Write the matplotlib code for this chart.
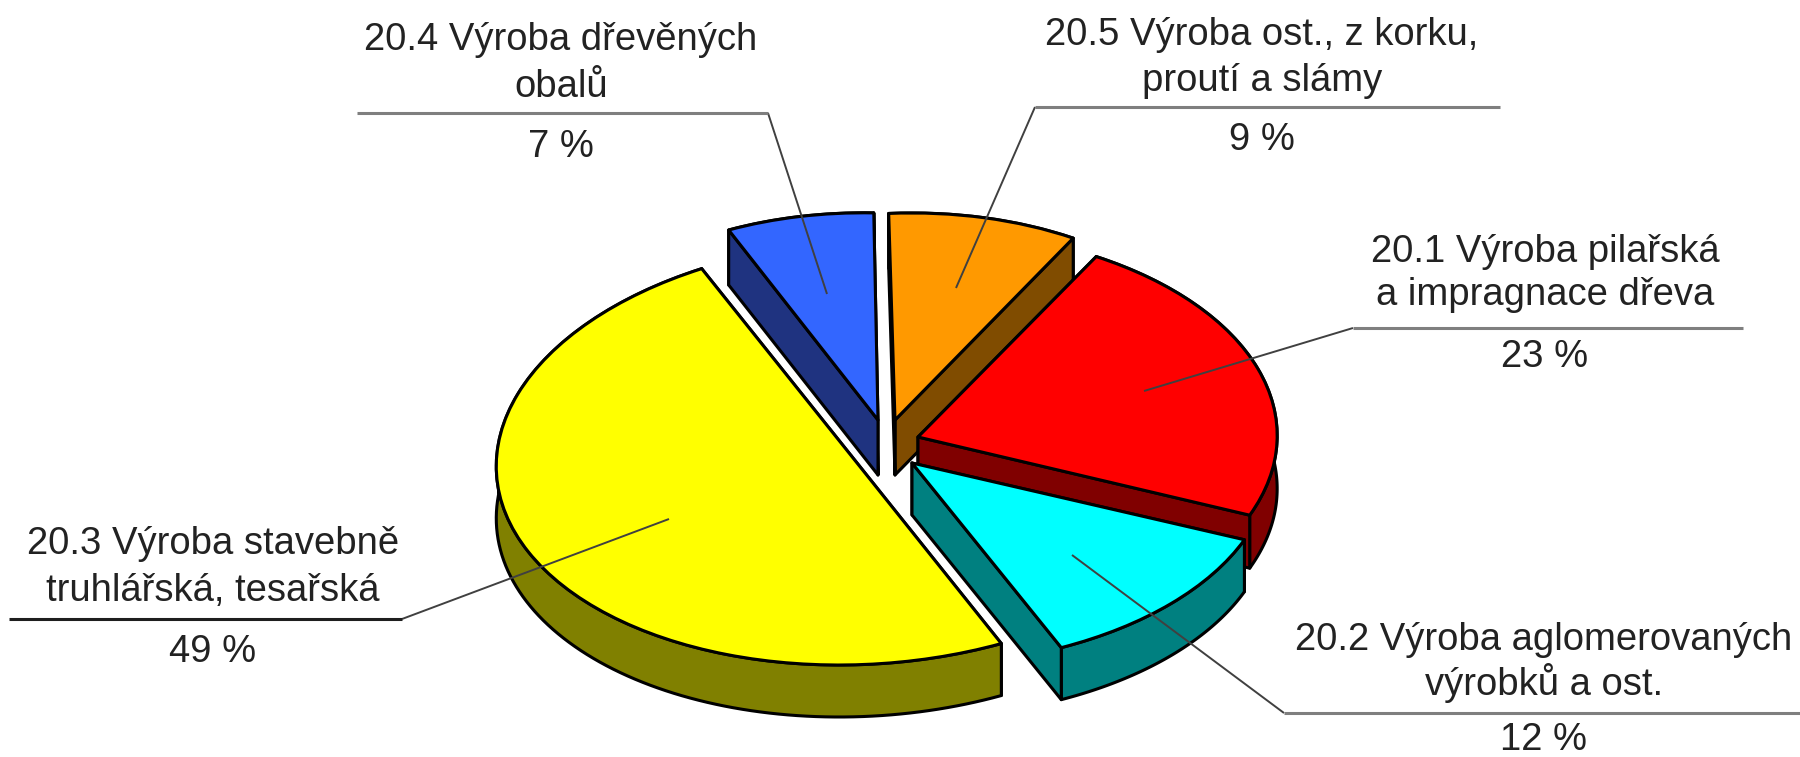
import numpy as np
import matplotlib
matplotlib.use("Agg")
import matplotlib.pyplot as plt
from matplotlib.patches import PathPatch, Polygon
from matplotlib.path import Path
from matplotlib.transforms import Affine2D

# ---------- data ----------
label_lines = [
    ["20.1 Výroba pilařská", "a impragnace dřeva"],
    ["20.2 Výroba aglomerovaných", "výrobků a ost."],
    ["20.3 Výroba stavebně", "truhlářská, tesařská"],
    ["20.4 Výroba dřevěných", "obalů"],
    ["20.5 Výroba ost., z korku,", "proutí a slámy"],
]
values = [23, 12, 49, 7, 9]

# ---------- styles ----------
top_colors = ["#FF0000", "#00FFFF", "#FFFF00", "#3366FF", "#FF9900"]
side_colors = ["#800000", "#008080", "#808000", "#1F3380", "#804C00"]
# per-slice projection of the unit pie: x/y scale + shear, pixel origin
slice_matrix = [
    (359, 11, 5, -207, 918, 437),
    (359, 9, 5, -203, 912, 463),
    (365, 23, 0, -212, 862, 453),
    (341, 22, 22, -206, 878, 420),
    (342, 20, 2, -207, 895, 420),
]
slice_depth = [53, 52, 52, 55, 55]
apex_inset = [0, 0, 0.0314, 0, 0]      # pulls the apex onto the chord for the near-half slice
draw_order = [3, 4, 0, 1, 2]
line_w = 2.2

# label layout: centre x, baselines of the lines, baseline of %, underline, leader
label_x = [1545, 1544, 213, 561, 1262]
label_base = [(262, 305), (650, 695), (554, 601), (50, 97), (45, 91)]
pct_base = [367, 750, 662, 157, 150]
rule_x = [(1353, 1743), (1284, 1800), (9, 402), (357, 768), (1035, 1500)]
rule_y = [328, 713, 619, 113, 107]
rule_color = ["#7f7f7f", "#7f7f7f", "#1e1e1e", "#7f7f7f", "#7f7f7f"]
leader_from = [(1353, 328), (1284, 713), (402, 619), (768, 113), (1035, 107)]
leader_to = [(1144, 391), (1072, 555), (669, 519), (827, 294), (956, 288)]

plt.rcParams["font.family"] = ["Liberation Sans", "DejaVu Sans"]
fig = plt.figure(figsize=(18, 7.57), dpi=100, facecolor="white")
ax = fig.add_axes([0, 0, 1, 1])

wedges, _ = ax.pie(values, startangle=62, counterclock=False, radius=1, colors=top_colors)
ax.set_aspect("auto")
ax.set_xlim(0, 1800)
ax.set_ylim(757, 0)
ax.axis("off")


def project(m, u, v):
    a, b, c, d, cx, cy = m
    return np.column_stack([cx + a * u + b * v, cy + c * u + d * v])


def cross(p, q):
    return p[0] * q[1] - p[1] * q[0]


for rank, i in enumerate(draw_order):
    w = wedges[i]
    m = slice_matrix[i]
    dep = np.array([0, slice_depth[i]])
    t1, t2 = np.radians(w.theta1), np.radians(w.theta2)
    tt = np.linspace(t1, t2, 120)
    rim = project(m, np.cos(tt), np.sin(tt))
    mid = (t1 + t2) / 2
    ins = (apex_inset[i] * np.cos(mid), apex_inset[i] * np.sin(mid))
    apex = project(m, np.array([ins[0]]), np.array([ins[1]]))[0]
    side = dict(facecolor=side_colors[i], edgecolor="black", linewidth=line_w, joinstyle="round", zorder=2 + rank)
    inner = rim[len(rim) // 2] - apex
    ends = (rim[0], rim[-1])
    visible = [cross(e - apex, dep) * cross(e - apex, inner) < 0 for e in ends]

    # hidden cut faces, then the outer wall, then the cut face turned to the viewer
    for e, v in zip(ends, visible):
        if not v:
            ax.add_patch(Polygon([apex, e, e + dep, apex + dep], closed=True, **side))
    ax.add_patch(Polygon(np.vstack([rim, (rim + dep)[::-1]]), closed=True, **side))
    for e, v in zip(ends, visible):
        if v:
            ax.add_patch(Polygon([apex, e, e + dep, apex + dep], closed=True, **side))

    # top face: the pie's own wedge, projected
    path = w.get_path()
    verts = path.vertices.copy()
    verts[np.hypot(verts[:, 0], verts[:, 1]) < 1e-9] = ins
    a, b, c, d, cx, cy = m
    trans = Affine2D(np.array([[a, b, cx], [c, d, cy], [0, 0, 1.0]])) + ax.transData
    ax.add_patch(PathPatch(Path(verts, path.codes), facecolor=top_colors[i], edgecolor="black",
                           linewidth=line_w, joinstyle="round", transform=trans, zorder=2.5 + rank))
    w.remove()

for i in range(len(values)):
    p, q = leader_from[i], leader_to[i]
    ax.plot([p[0], q[0]], [p[1], q[1]], color="#404040", lw=1.4, zorder=20, solid_capstyle="butt")
    ax.plot(rule_x[i], [rule_y[i]] * 2, color=rule_color[i], lw=2.2, zorder=20, solid_capstyle="butt")
    for text, base in zip(label_lines[i], label_base[i]):
        ax.text(label_x[i], base, text, ha="center", va="baseline", fontsize=27.5, color="#222222", zorder=21)
    ax.text(label_x[i], pct_base[i], f"{values[i]} %", ha="center", va="baseline", fontsize=27.5,
            color="#222222", zorder=21)

fig.savefig("out.png", dpi=100, facecolor="white")
